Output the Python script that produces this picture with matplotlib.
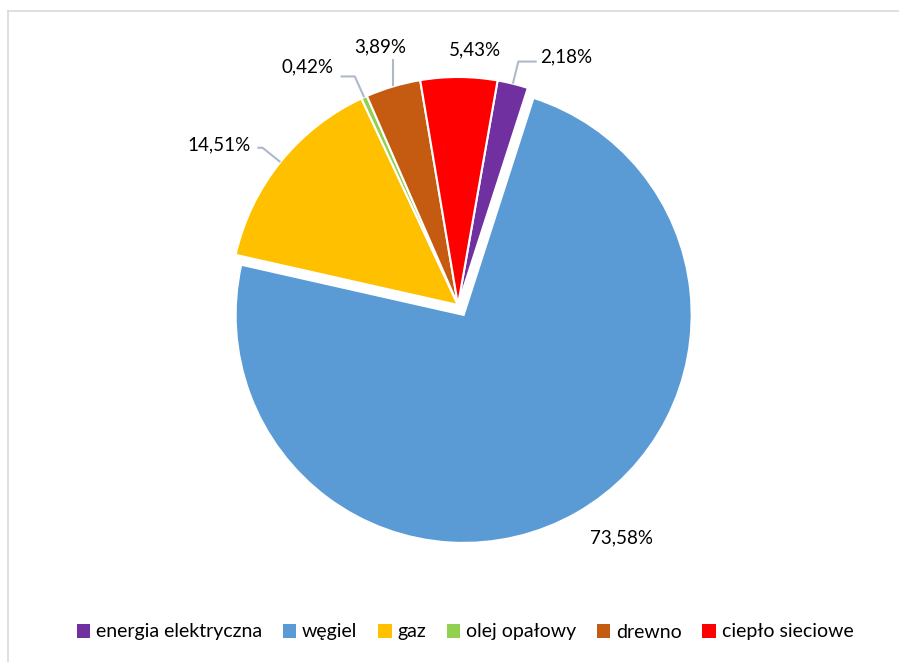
import numpy as np
import matplotlib
matplotlib.use("Agg")
import matplotlib.pyplot as plt
from matplotlib.lines import Line2D
from matplotlib.patches import Patch

plt.rcParams['font.family'] = ['Lato', 'DejaVu Sans']

W, H = 899, 662
R_PX = 228          # pie radius in pixels
CX, CY = 458, 305   # pie centre in pixels (from top)

categories = ["energia elektryczna", "węgiel", "gaz", "olej opałowy",
              "drewno", "ciepło sieciowe"]
shares = [2.18, 73.58, 14.51, 0.42, 3.89, 5.43]
colors = ["#7030A0", "#5B9BD5", "#FFC000", "#92D050", "#C55A11", "#FF0000"]
explode = [0, 0.05, 0, 0, 0, 0]

# label text anchor (x, y, ha) in pie units, and whether a leader line is drawn
LABEL_POS = [(0.36, 1.088, "left"), (0.719, -1.022, "center"),
             (-0.91, 0.702, "right"), (-0.545, 1.044, "right"),
             (-0.342, 1.132, "center"), (0.075, 1.118, "center")]
LEADER = [True, False, True, True, True, False]
LEADER_COLOR = "#ADB9CA"
FONTSIZE_LABELS = 13.5
FONTSIZE_LEGEND = 14

fig = plt.figure(figsize=(W / 100, H / 100), dpi=100)
LIM = 1.3
S = 2 * LIM * R_PX
ax = fig.add_axes([(CX - S / 2) / W, (H - CY - S / 2) / H, S / W, S / H])

wedges, _ = ax.pie(shares, colors=colors, explode=explode, startangle=80,
                   counterclock=False, radius=1.0,
                   wedgeprops=dict(edgecolor="white", linewidth=1.5))
ax.set_xlim(-LIM, LIM)
ax.set_ylim(-LIM, LIM)
ax.set_aspect("equal")
ax.axis("off")

for i, w in enumerate(wedges):
    mid = np.deg2rad((w.theta1 + w.theta2) / 2)
    tx, ty, ha = LABEL_POS[i]
    label = f"{shares[i]:.2f}%".replace(".", ",")
    ax.text(tx, ty, label, ha=ha, va="center", fontsize=FONTSIZE_LABELS,
            color="#000000")
    if LEADER[i]:
        x0, y0 = np.cos(mid) * 1.0, np.sin(mid) * 1.0
        x1, y1 = np.cos(mid) * 1.1, np.sin(mid) * 1.1
        if ha == "left":
            xs, ys = [x0, x1, tx - 0.015], [y0, y1, y1]
        elif ha == "right":
            xs, ys = [x0, x1, tx + 0.03], [y0, y1, y1]
        else:
            xs, ys = [x0, x0], [y0, ty - 0.055]
        ax.plot(xs, ys, color=LEADER_COLOR, lw=1.5, solid_capstyle="butt")

handles = [Patch(facecolor=c, edgecolor="none") for c in colors]
fig.legend(handles, categories, loc="center", bbox_to_anchor=(465 / W, 1 - 632 / H),
           ncol=6, frameon=False, fontsize=FONTSIZE_LEGEND, handlelength=0.7,
           handleheight=0.7, handletextpad=0.3, columnspacing=1.05)

# chart-area border
fig.add_artist(Line2D([8 / W, 8 / W], [0, 1 - 11 / H], color="#D9D9D9", lw=1.2))
fig.add_artist(Line2D([8 / W, 1], [1 - 11 / H, 1 - 11 / H], color="#D9D9D9", lw=1.2))

fig.savefig("out.png", dpi=100)
